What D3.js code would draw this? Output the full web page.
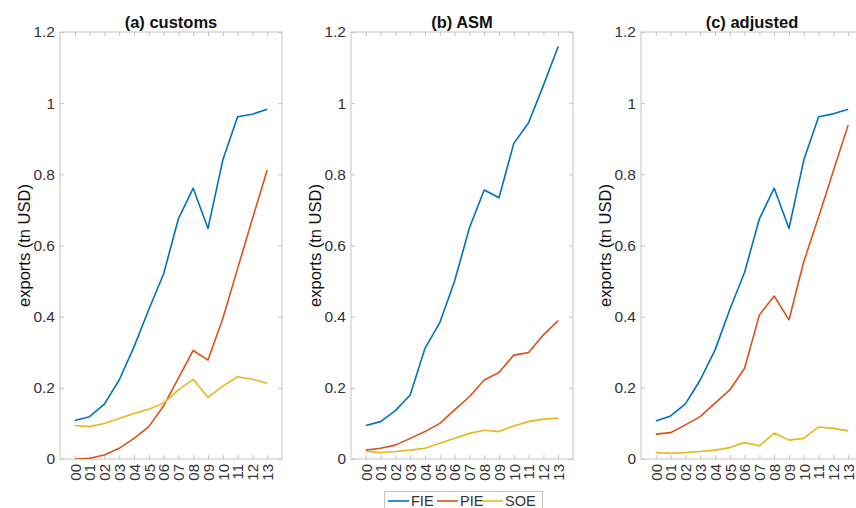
<!DOCTYPE html>
<html>
<head>
<meta charset="utf-8">
<script src="https://cdn.jsdelivr.net/npm/d3@7"></script>
<style>
  body { margin: 0; background: #fff; }
  svg { display: block; font-family: "Liberation Sans", Arial, Helvetica, sans-serif; }
</style>
</head>
<body>
<svg id="chart" width="856" height="508"></svg>
<script>
const years = ['00', '01', '02', '03', '04', '05', '06', '07', '08', '09', '10', '11', '12', '13'];
const yTicks = [0, 0.2, 0.4, 0.6, 0.8, 1, 1.2];
const seriesNames = ['FIE', 'PIE', 'SOE'];
const titles = ['(a) customs', '(b) ASM', '(c) adjusted'];

// exports in tn USD
const customsFIE = [0.108, 0.119, 0.154, 0.222, 0.315, 0.42, 0.52, 0.675, 0.761, 0.648, 0.84, 0.962, 0.969, 0.983];
const customsPIE = [0.0, 0.002, 0.011, 0.030, 0.058, 0.091, 0.149, 0.227, 0.305, 0.278, 0.395, 0.535, 0.675, 0.812];
const customsSOE = [0.094, 0.091, 0.100, 0.114, 0.128, 0.140, 0.157, 0.194, 0.224, 0.173, 0.205, 0.231, 0.224, 0.213];

const asmFIE = [0.094, 0.105, 0.136, 0.180, 0.311, 0.383, 0.50, 0.649, 0.756, 0.734, 0.887, 0.945, 1.05, 1.159];
const asmPIE = [0.025, 0.030, 0.039, 0.058, 0.077, 0.100, 0.138, 0.175, 0.222, 0.243, 0.292, 0.299, 0.349, 0.389];
const asmSOE = [0.022, 0.018, 0.021, 0.025, 0.030, 0.044, 0.058, 0.072, 0.081, 0.077, 0.093, 0.105, 0.112, 0.115];

const adjFIE = [0.107, 0.121, 0.155, 0.222, 0.306, 0.42, 0.525, 0.675, 0.761, 0.648, 0.84, 0.962, 0.970, 0.983];
const adjPIE = [0.070, 0.074, 0.096, 0.119, 0.157, 0.194, 0.255, 0.405, 0.458, 0.391, 0.555, 0.68, 0.81, 0.939];
const adjSOE = [0.018, 0.016, 0.018, 0.021, 0.025, 0.032, 0.046, 0.037, 0.073, 0.053, 0.058, 0.090, 0.086, 0.079];

const panelData = [
  [customsFIE, customsPIE, customsSOE],
  [asmFIE, asmPIE, asmSOE],
  [adjFIE, adjPIE, adjSOE]
];

const colors = ['#0072BD', '#D95319', '#E6B81E'];
const axisColor = '#c4c4c4';
const textColor = '#333';

const svg = d3.select('#chart');

const panelLefts = [60, 351, 641];
const panelW = 222;
const plotTop = 32, plotBottom = 459;

const y = d3.scaleLinear().domain([0, 1.2]).range([plotBottom, plotTop]);

panelData.forEach((series, p) => {
  const left = panelLefts[p];
  const x = d3.scaleLinear().domain([-1, 14]).range([left, left + panelW]);

  const g = svg.append('g').attr('class', 'panel');

  // axes box
  g.append('rect')
    .attr('x', left)
    .attr('y', plotTop)
    .attr('width', panelW)
    .attr('height', plotBottom - plotTop)
    .attr('fill', 'none')
    .attr('stroke', axisColor)
    .attr('stroke-width', 1);

  // y ticks (inside, both sides)
  const yAxisL = d3.axisLeft(y).tickValues(yTicks).tickSizeInner(-4).tickSizeOuter(0)
    .tickFormat(d => d3.format('~g')(d)).tickPadding(5);
  const gy = g.append('g').attr('transform', `translate(${left},0)`).call(yAxisL);
  gy.select('.domain').remove();
  gy.selectAll('line').attr('stroke', axisColor);
  gy.selectAll('text').attr('fill', textColor).style('font-size', '15.5px');

  const yAxisR = d3.axisRight(y).tickValues(yTicks).tickSizeInner(-4).tickSizeOuter(0).tickFormat('');
  const gyr = g.append('g').attr('transform', `translate(${left + panelW},0)`).call(yAxisR);
  gyr.select('.domain').remove();
  gyr.selectAll('line').attr('stroke', axisColor);

  // x ticks, labels turned to read upward
  const xAxis = d3.axisBottom(x).tickValues(d3.range(years.length)).tickSizeInner(-4).tickSizeOuter(0)
    .tickFormat(i => years[i]);
  const gx = g.append('g').attr('transform', `translate(0,${plotBottom})`).call(xAxis);
  gx.select('.domain').remove();
  gx.selectAll('line').attr('stroke', axisColor);
  gx.selectAll('text')
    .attr('fill', textColor)
    .style('font-size', '15px')
    .attr('text-anchor', 'end')
    .attr('dy', '0.35em')
    .attr('y', 0)
    .attr('transform', 'translate(0,5) rotate(-90)');

  const xAxisT = d3.axisTop(x).tickValues(d3.range(years.length)).tickSizeInner(-4).tickSizeOuter(0).tickFormat('');
  const gxt = g.append('g').attr('transform', `translate(0,${plotTop})`).call(xAxisT);
  gxt.select('.domain').remove();
  gxt.selectAll('line').attr('stroke', axisColor);

  // lines
  const line = d3.line()
    .x((d, i) => x(i))
    .y(d => y(d));

  const clipId = 'clip' + p;
  g.append('clipPath').attr('id', clipId)
    .append('rect').attr('x', left).attr('y', plotTop).attr('width', panelW).attr('height', plotBottom - plotTop);

  g.append('g')
    .attr('clip-path', `url(#${clipId})`)
    .selectAll('path.series')
    .data(series)
    .enter()
    .append('path')
    .attr('class', 'series')
    .attr('d', d => line(d))
    .attr('fill', 'none')
    .attr('stroke', (d, i) => colors[i])
    .attr('stroke-width', 1.6)
    .attr('stroke-linejoin', 'round');

  // title
  g.append('text')
    .attr('x', left + panelW / 2)
    .attr('y', 28)
    .attr('text-anchor', 'middle')
    .attr('fill', '#111')
    .style('font-size', '16.5px')
    .style('font-weight', 'bold')
    .text(titles[p]);

  // y label
  g.append('text')
    .attr('transform', `translate(${left - 36},${(plotTop + plotBottom) / 2}) rotate(-90)`)
    .attr('text-anchor', 'middle')
    .attr('dy', '0.35em')
    .attr('fill', '#111')
    .style('font-size', '16.5px')
    .text('exports (tn USD)');
});

// legend
const legend = svg.append('g').attr('class', 'legend');
legend.append('rect')
  .attr('x', 384.5)
  .attr('y', 491.5)
  .attr('width', 158)
  .attr('height', 24)
  .attr('fill', '#fff')
  .attr('stroke', axisColor);

const legendX = [388, 437, 482];
const items = legend.selectAll('g.item')
  .data(seriesNames)
  .enter()
  .append('g')
  .attr('class', 'item')
  .attr('transform', (d, i) => `translate(${legendX[i]},501)`);

items.append('line')
  .attr('x1', 0).attr('x2', 21)
  .attr('y1', 0).attr('y2', 0)
  .attr('stroke', (d, i) => colors[i])
  .attr('stroke-width', 1.6);

items.append('text')
  .attr('x', 23)
  .attr('dy', '0.36em')
  .attr('fill', textColor)
  .style('font-size', '14.5px')
  .text(d => d);
</script>
</body>
</html>
